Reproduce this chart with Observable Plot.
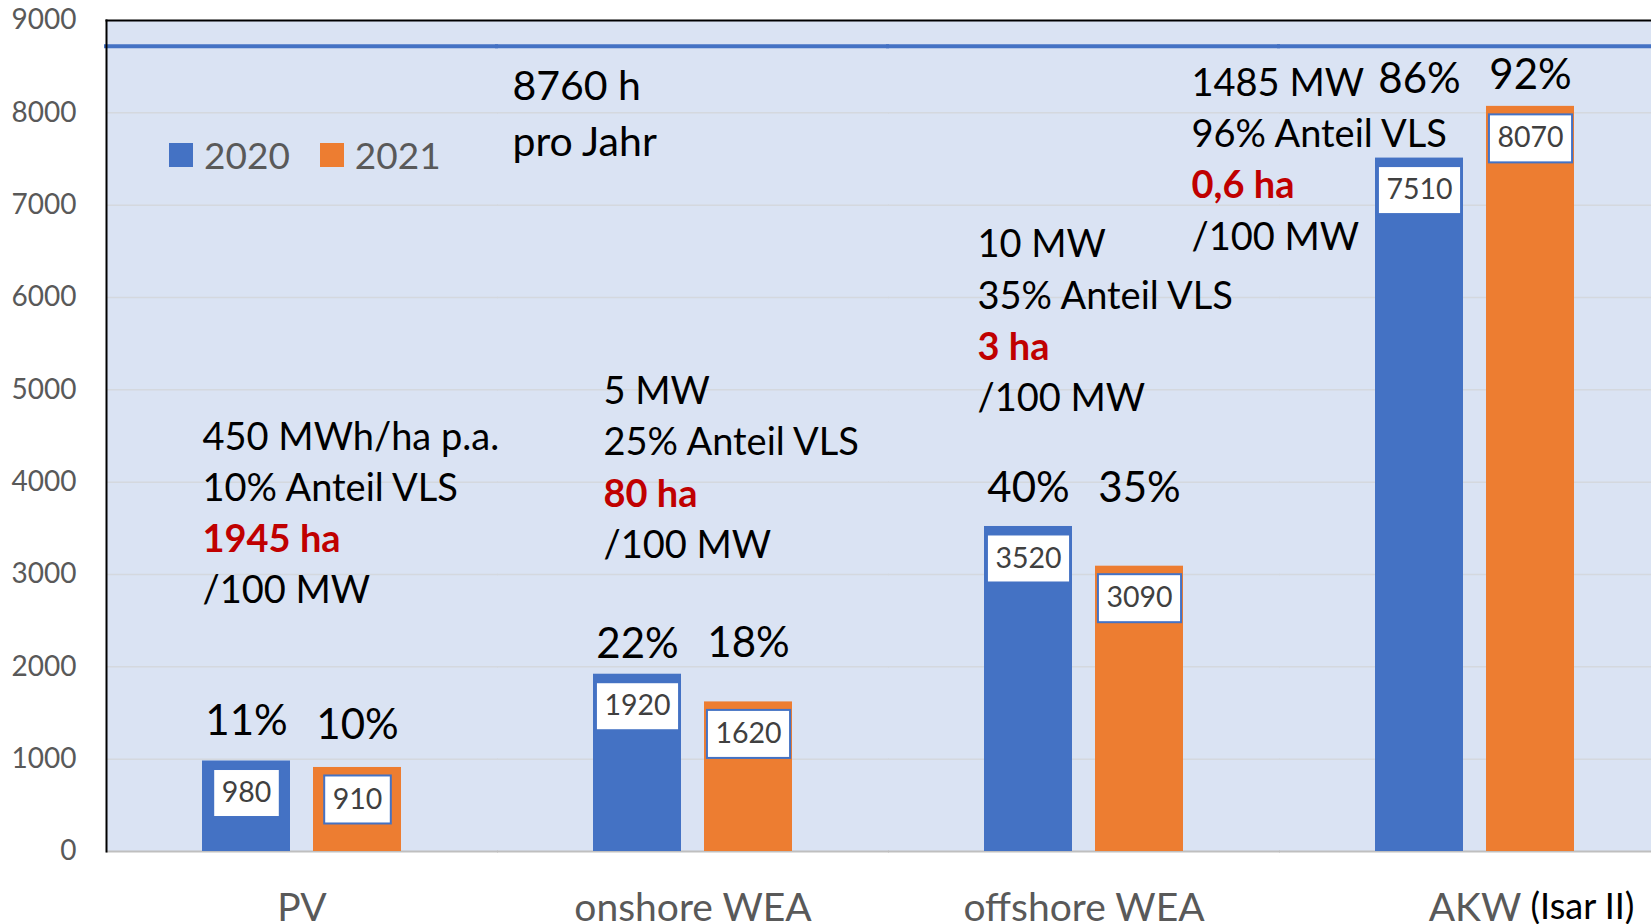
<!DOCTYPE html>
<html>
<head>
<meta charset="utf-8">
<script src="https://cdn.jsdelivr.net/npm/d3@7"></script>
<script src="https://cdn.jsdelivr.net/npm/@observablehq/plot@0.6"></script>
<style>
html, body { margin: 0; padding: 0; background: #fff; }
#wrap { position: relative; width: 1651px; height: 924px; overflow: hidden; }
#chart svg { display: block; max-width: none !important; width: 1671px !important; height: 924px !important; }
#legend { position: absolute; left: 169px; top: 132px; }
#legend .lg-swatches { font-family: Lato, sans-serif !important; font-size: 37px !important; color: #595959 !important; margin: 0 !important; }
#legend .lg-swatch { margin-right: 30px !important; }
#legend .lg-swatch > svg { margin-right: 11px !important; }
</style>
</head>
<body>
<div id="wrap"><div id="chart"></div><div id="legend"></div></div>
<script>
// ---- data ----
const categories = ["PV", "onshore WEA", "offshore WEA", "AKW"];
const years = ["2020", "2021"];
const hours2020 = [980, 1920, 3520, 7510];
const hours2021 = [910, 1620, 3090, 8070];
const share2020 = ["11%", "22%", "40%", "86%"];
const share2021 = ["10%", "18%", "35%", "92%"];
const yearLine = 8720; // line drawn for the 8760 h of a year
const yTicks = [0, 1000, 2000, 3000, 4000, 5000, 6000, 7000, 8000, 9000];
const colors = ["#4472c4", "#ed7d31"];

const notePV = ["450 MWh/ha p.a.", "10% Anteil VLS", "1945 ha", "/100 MW"];
const noteOnshore = ["5 MW", "25% Anteil VLS", "80 ha", "/100 MW"];
const noteOffshore = ["10 MW", "35% Anteil VLS", "3 ha", "/100 MW"];
const noteAKW = ["1485 MW", "96% Anteil VLS", "0,6 ha", "/100 MW"];
const noteYear = ["8760 h", "pro Jahr"];
const akwNote = "(Isar II)";

// ---- label anchors (y in data units) ----
const shareY2020 = [1260, 2100, 3790, 8216];
const shareY2021 = [1215, 2110, 3790, 8256];
const notes = [
  {category: "PV", year: "2020", y: 2690, dx: -44, lines: notePV},
  {category: "onshore WEA", year: "2020", y: 3180, dx: -34, lines: noteOnshore},
  {category: "offshore WEA", year: "2020", y: 4770, dx: -51, lines: noteOffshore},
  {category: "AKW", year: "2020", y: 6520, dx: -228, lines: noteAKW}
];

// ---- tables ----
const bars = categories.flatMap((c, i) => [
  {category: c, year: years[0], value: hours2020[i], share: share2020[i], shareY: shareY2020[i]},
  {category: c, year: years[1], value: hours2021[i], share: share2021[i], shareY: shareY2021[i]}
]);

const noteFont = 38, noteLH = 51.2 / 38;
function noteMarks(n) {
  const black = n.lines.map((l, i) => i === 2 ? "" : l).join("\n");
  const red = n.lines[2] + "\n";
  const base = {fx: "category", x: "year", y: "y", dx: n.dx, textAnchor: "start", lineAnchor: "bottom", fontSize: noteFont, lineHeight: noteLH};
  return [
    Plot.text([n], {...base, text: () => black, fill: "black"}),
    Plot.text([n], {...base, text: () => red, fill: "#c00000", fontWeight: "bold"})
  ];
}

const plot = Plot.plot({
  width: 1671, height: 924,
  marginLeft: 105, marginRight: 0, marginTop: 20, marginBottom: 73,
  style: {fontFamily: "Lato, sans-serif", background: "white", maxWidth: "none"},
  fx: {domain: categories, padding: 0, label: null},
  x: {domain: years, paddingInner: 0.2108, paddingOuter: 0.861, axis: null},
  y: {domain: [0, 9000], label: null},
  color: {domain: years, range: colors},
  marks: [
    Plot.frame({fill: "#dae3f3", facet: "super"}),
    Plot.ruleY(yTicks.slice(1, -1), {stroke: "#d4d8de", strokeWidth: 1.5, insetRight: -1}),
    Plot.ruleY([0], {stroke: "#bfbfbf", strokeWidth: 2, insetRight: -1}),
    Plot.barY(bars, {fx: "category", x: "year", y: "value", fill: "year"}),
    Plot.ruleY([yearLine], {stroke: "#4472c4", strokeWidth: 4, insetLeft: -2, insetRight: -1}),
    Plot.frame({anchor: "top", stroke: "black", strokeWidth: 2, facet: "super"}),
    Plot.frame({anchor: "left", stroke: "black", strokeWidth: 2, facet: "super"}),
    Plot.axisY({ticks: yTicks, tickFormat: "d", tickSize: 0, tickPadding: 30, fontSize: 28, fill: "#595959", label: null}),
    Plot.axisFx({anchor: "bottom", tickSize: 0, tickPadding: 42, fontSize: 39, fill: "#595959", label: null}),
    Plot.text([{category: "AKW", year: "2021"}], {fx: "category", x: "year", frameAnchor: "bottom", text: () => akwNote, textAnchor: "start", lineAnchor: "top", dy: 42, dx: 0, fontSize: 36, fill: "black"}),
    Plot.text(bars, {fx: "category", x: "year", y: "value", text: d => String(d.value), dy: 32, lineAnchor: "middle", fontSize: 28.5, fill: "#404040", ariaDescription: "values"}),
    Plot.text(bars, {fx: "category", x: "year", y: "shareY", text: "share", lineAnchor: "bottom", fontSize: 42, fill: "black"}),
    Plot.text([{category: "PV", year: "2021", y: 7531}], {fx: "category", x: "year", y: "y", dx: 155, text: () => noteYear.join("\n"), textAnchor: "start", lineAnchor: "bottom", fontSize: 41, lineHeight: 56 / 41, fill: "black"}),
    ...notes.flatMap(noteMarks)
  ]
});

document.getElementById("chart").append(plot);

// white boxes behind value labels
const svgns = "http://www.w3.org/2000/svg";
plot.querySelectorAll('g[aria-description="values"] text').forEach(t => {
  const b = t.getBBox();
  const w = b.width + 17;
  const r = document.createElementNS(svgns, "rect");
  r.setAttribute("x", -w / 2);
  r.setAttribute("y", -24);
  r.setAttribute("width", w);
  r.setAttribute("height", 48);
  r.setAttribute("fill", "white");
  r.setAttribute("stroke", "#4472c4");
  r.setAttribute("stroke-width", 2);
  const tr = t.getAttribute("transform");
  if (tr) r.setAttribute("transform", tr);
  t.parentNode.insertBefore(r, t);
});

const legend = Plot.legend({color: {domain: years, range: colors}, legend: "swatches", swatchSize: 24, className: "lg"});
document.getElementById("legend").append(legend);
</script>
</body>
</html>
